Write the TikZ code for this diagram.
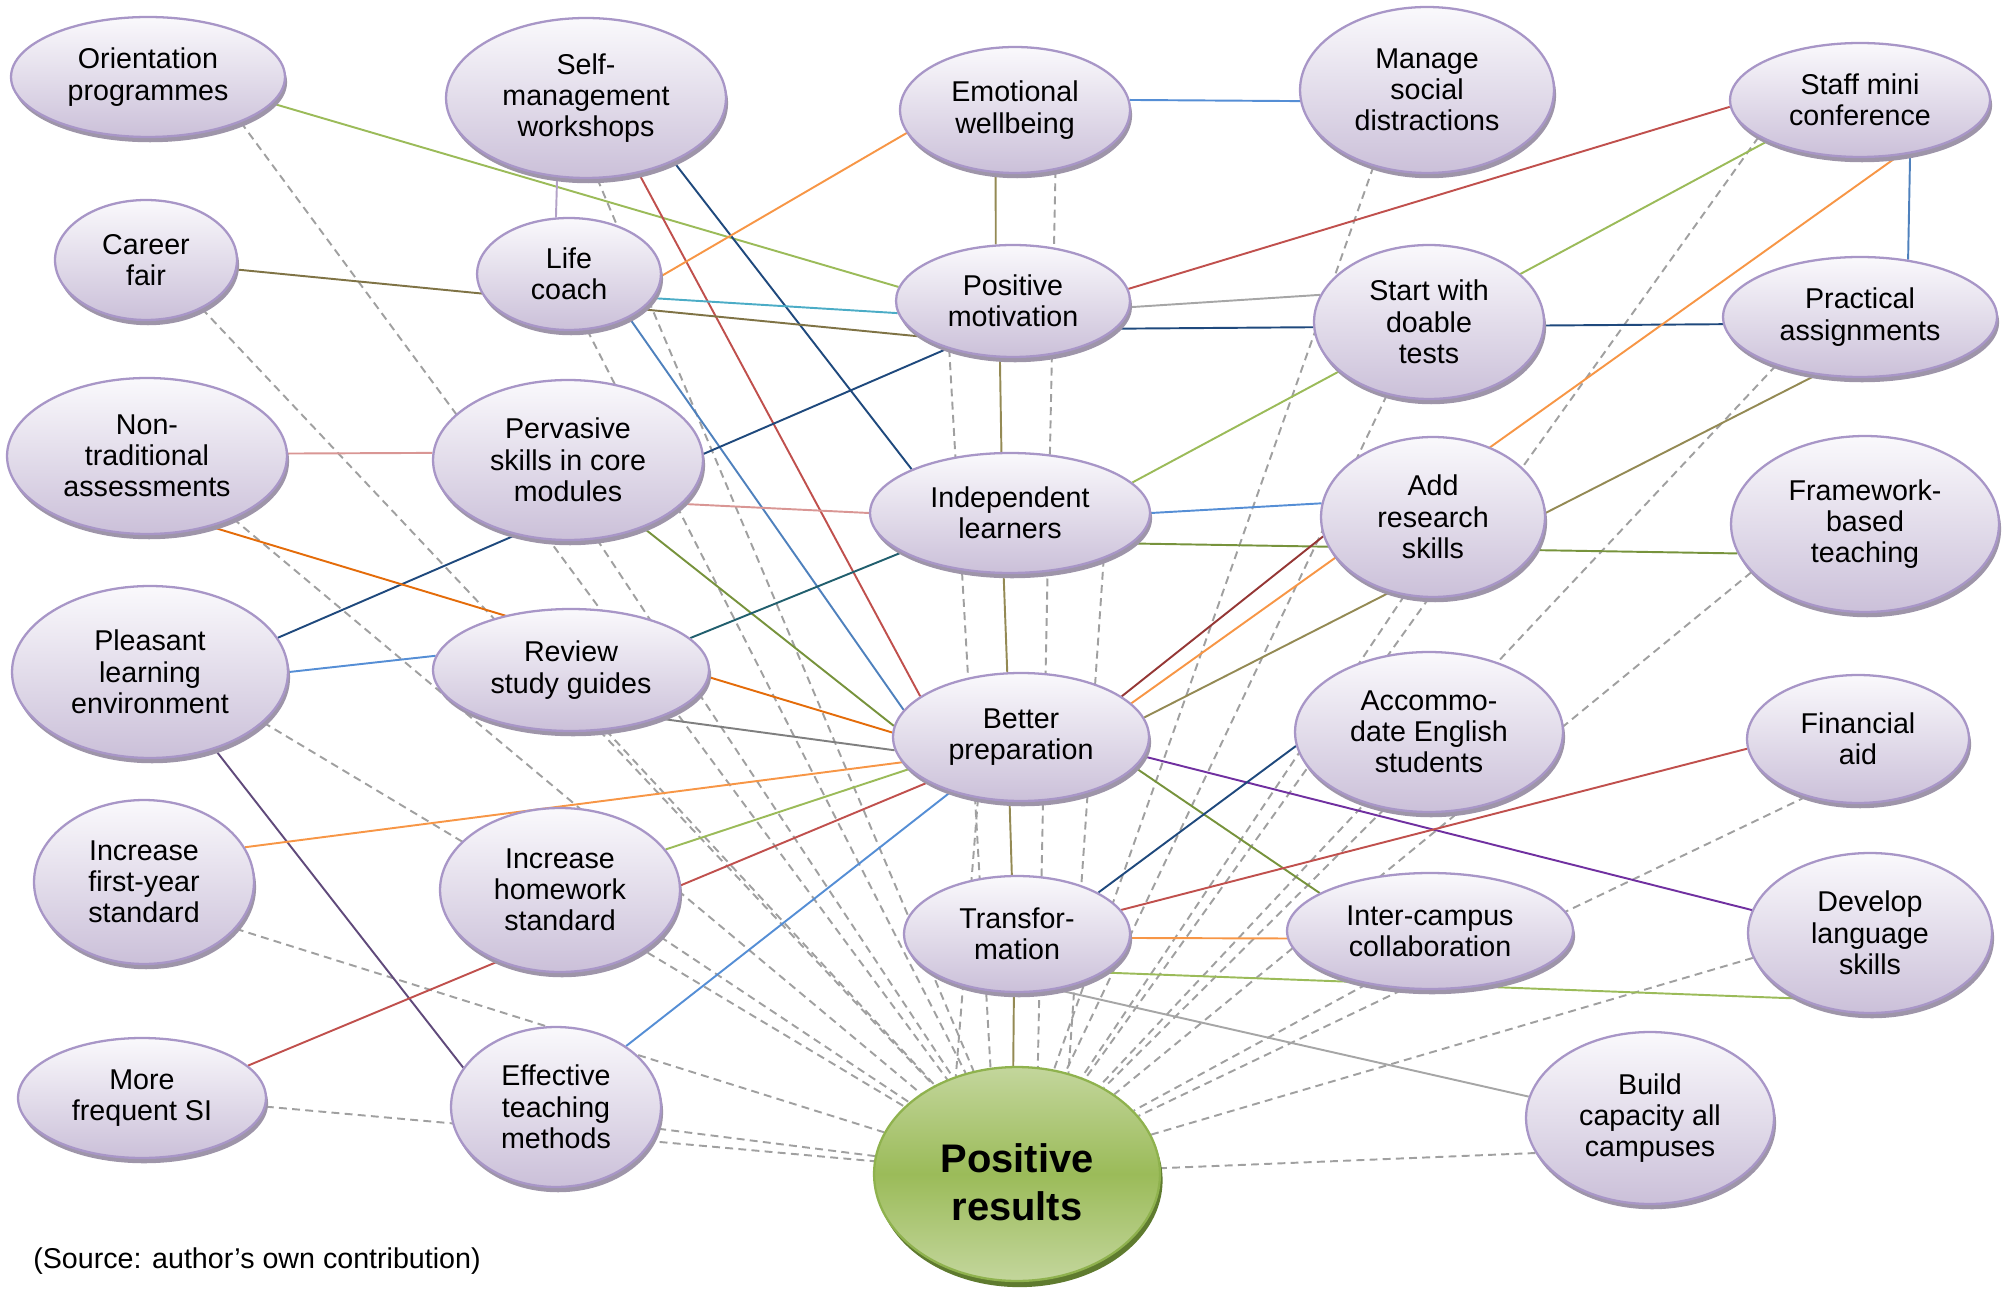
\documentclass[tikz,border=0pt]{standalone}
\usepackage{fontspec}
\setmainfont{Liberation Sans}
\usetikzlibrary{shapes.geometric,shadows,backgrounds}
\definecolor{btop}{HTML}{FAF9FC}
\definecolor{bbot}{HTML}{CBC0D9}
\definecolor{bord}{HTML}{A896C7}
\definecolor{bshad}{HTML}{9E95A9}
\definecolor{prtop}{HTML}{C3D69C}
\definecolor{prmid}{HTML}{9BBB59}
\definecolor{prbord}{HTML}{8FB24E}
\definecolor{prshad}{HTML}{5F7B2F}
\definecolor{cgreen}{HTML}{9BBB59}
\definecolor{cnavy}{HTML}{1F497D}
\definecolor{cred}{HTML}{C0504D}
\definecolor{cblue}{HTML}{4F81BD}
\definecolor{clblue}{HTML}{558ED5}
\definecolor{corange}{HTML}{F79646}
\definecolor{cdorange}{HTML}{E46C0A}
\definecolor{colive}{HTML}{948A54}
\definecolor{cbrown}{HTML}{7F7345}
\definecolor{cogreen}{HTML}{77933C}
\definecolor{ccyan}{HTML}{4BACC6}
\definecolor{cgray}{HTML}{A6A6A6}
\definecolor{cdgray}{HTML}{7F7F7F}
\definecolor{cpink}{HTML}{D99694}
\definecolor{cteal}{HTML}{215F6E}
\definecolor{cdred}{HTML}{953735}
\definecolor{cpurple}{HTML}{7030A0}
\definecolor{cmpurple}{HTML}{604A7B}
\definecolor{clav}{HTML}{B3A2C7}
\definecolor{dashgray}{HTML}{A0A0A0}
\begin{document}
\begin{tikzpicture}[x=0.02cm,y=-0.02cm,
  bub/.style={ellipse, draw=bord, line width=1.3pt, top color=btop, bottom color=bbot,
    inner sep=0pt, align=center, font=\fontsize{16.3pt}{17.8pt}\selectfont,
    drop shadow={shadow xshift=1.2pt, shadow yshift=-3pt, fill=bshad, opacity=1}},
  sz/.style 2 args={minimum width=#1cm, minimum height=#2cm},
  prs/.style={ellipse, draw=prbord, line width=1.3pt, top color=prtop, bottom color=prtop, middle color=prmid,
    inner sep=0pt, align=center, font=\bfseries\fontsize{22.7pt}{27.5pt}\selectfont,
    drop shadow={shadow xshift=1.5pt, shadow yshift=-3.5pt, fill=prshad, opacity=1}},
  ln/.style={draw=#1, line width=1.1pt},
  dsh/.style={draw=dashgray, line width=1.1pt, dash pattern=on 4.5pt off 3pt}
]
\useasboundingbox (0,0) rectangle (2011,1290);

\node[bub, sz={5.48}{2.40}] (orient) at (148,77) {Orientation\\programmes};
\node[bub, sz={5.60}{3.20}] (selfm) at (586,98) {Self-\\management\\workshops};
\node[bub, sz={3.64}{2.40}] (career) at (146,260) {Career\\fair};
\node[bub, sz={3.68}{2.24}] (life) at (569,274) {Life\\coach};
\node[bub, sz={4.60}{2.52}] (emo) at (1015,110) {Emotional\\wellbeing};
\node[bub, sz={5.08}{3.32}] (manage) at (1427,90) {Manage\\social\\distractions};
\node[bub, sz={4.68}{2.24}] (posmot) at (1013,301) {Positive\\motivation};
\node[bub, sz={5.20}{2.28}] (staff) at (1860,100) {Staff mini\\conference};
\node[bub, sz={4.60}{3.08}] (start) at (1429,322) {Start with\\doable\\tests};
\node[bub, sz={5.48}{2.40}] (pract) at (1860,317) {Practical\\assignments};
\node[bub, sz={5.60}{3.12}] (nontrad) at (147,456) {Non-\\traditional\\assessments};
\node[bub, sz={5.40}{3.20}] (perv) at (568,460) {Pervasive\\skills in core\\modules};
\node[bub, sz={5.60}{2.40}] (indep) at (1010,513) {Independent\\learners};
\node[bub, sz={4.48}{3.20}] (addres) at (1433,517) {Add\\research\\skills};
\node[bub, sz={5.36}{3.52}] (frame) at (1865,524) {Framework-\\based\\teaching};
\node[bub, sz={5.52}{3.44}] (pleas) at (150,672) {Pleasant\\learning\\environment};
\node[bub, sz={5.52}{2.44}] (review) at (571,670) {Review\\study guides};
\node[bub, sz={5.12}{2.56}] (better) at (1021,737) {Better\\preparation};
\node[bub, sz={5.36}{3.20}] (accom) at (1429,732) {Accommo-\\date English\\students};
\node[bub, sz={4.44}{2.56}] (fin) at (1858,739) {Financial\\aid};
\node[bub, sz={4.40}{3.28}] (firsty) at (144,882) {Increase\\first-year\\standard};
\node[bub, sz={4.80}{3.28}] (homew) at (560,890) {Increase\\homework\\standard};
\node[bub, sz={4.52}{2.32}] (trans) at (1017,934) {Transfor-\\mation};
\node[bub, sz={5.72}{2.32}] (inter) at (1430,931) {Inter-campus\\collaboration};
\node[bub, sz={4.88}{3.20}] (develop) at (1870,933) {Develop\\language\\skills};
\node[bub, sz={4.96}{2.40}] (moresi) at (142,1098) {More\\frequent SI};
\node[bub, sz={4.20}{3.20}] (effect) at (556,1107) {Effective\\teaching\\methods};
\node[bub, sz={4.96}{3.44}] (build) at (1650,1118) {Build\\capacity all\\campuses};
\node[prs, sz={5.72}{4.28}] (pr) at (1017,1174) {\rule{0pt}{0.9cm}Positive\\results};

\node[anchor=base west, inner sep=0pt, font=\fontsize{16.3pt}{17.8pt}\selectfont] (src) at (33,1268) {(Source: author’s own contribution)};

\begin{scope}[on background layer]
% dashed links to Positive results
\draw[dsh] (orient.-26) -- (pr);
\draw[dsh] (career.-41) -- (pr);
\draw[dsh] (selfm.-82) -- (pr);
\draw[dsh] (life.-72) -- (pr);
\draw[dsh] (nontrad.-36) -- (pr);
\draw[dsh] (perv.-70) -- (pr);
\draw[dsh] (pleas.-24) -- (pr);
\draw[dsh] (review.-60) -- (pr);
\draw[dsh] (firsty.-27) -- (pr);
\draw[dsh] (homew.-25) -- (pr);
\draw[dsh] (moresi.-4) -- (pr);
\draw[dsh] (effect.-12) -- (pr);
\draw[dsh] (emo.-56) -- (pr.79);
\draw[dsh] (posmot.-143) -- (pr.104);
\draw[dsh] (indep.-26) -- (pr.63);
\draw[dsh] (better.-125) -- (pr.122);
\draw[dsh] (manage.-125) -- (pr);
\draw[dsh] (staff.-160) -- (pr);
\draw[dsh] (start.-120) -- (pr);
\draw[dsh] (pract.-150) -- (pr);
\draw[dsh] (addres.-110) -- (pr);
\draw[dsh] (frame.-157) -- (pr);
\draw[dsh] (accom.-120) -- (pr);
\draw[dsh] (fin.-132) -- (pr);
\draw[dsh] (inter.-140) -- (pr);
\draw[dsh] (develop.-168) -- (pr);
\draw[dsh] (build.-163) -- (pr);
% solid links
\draw[ln=cgreen] (orient.-12) -- (posmot.173);
\draw[ln=clav] (selfm.-110) -- (life.103);
\draw[ln=cnavy] (selfm.-36) -- (indep.156);
\draw[ln=cred] (selfm.-55) -- (better.158);
\draw[ln=clblue] (emo.5) -- (manage.-175);
\draw[ln=colive] (emo.-107) -- (posmot.107);
\draw[ln=corange] (life.-1) -- (emo.-168);
\draw[ln=cbrown] (career.-6) -- (posmot.-159);
\draw[ln=ccyan] (life.-16) -- (posmot.-174);
\draw[ln=cblue] (life.-36) -- (better.167);
\draw[ln=cred] (posmot.6) -- (staff.-177);
\draw[ln=cgray] (posmot.-3) -- (start.166);
\draw[ln=cnavy] (posmot.-15) -- (pract.-177);
\draw[ln=colive] (posmot.-103) -- (indep.98);
\draw[ln=cnavy] (pleas.15) -- (posmot.-144);
\draw[ln=cpink] (nontrad.1) -- (perv.177);
\draw[ln=cpink] (perv.-21) -- (indep.180);
\draw[ln=cogreen] (perv.-42) -- (better.175);
\draw[ln=cdorange] (nontrad.-48) -- (better.178);
\draw[ln=clblue] (pleas.0) -- (review.174);
\draw[ln=cmpurple] (pleas.-50) -- (effect.157);
\draw[ln=cteal] (review.15) -- (indep.-160);
\draw[ln=cdgray] (review.-29) -- (better.-174);
\draw[ln=clblue] (indep.0) -- (addres.173);
\draw[ln=cogreen] (indep.-14) -- (frame.-167);
\draw[ln=colive] (indep.-96) -- (better.102);
\draw[ln=cgreen] (indep.14) -- (staff.-156);
\draw[ln=cblue] (staff.-47) -- (pract.50);
\draw[ln=corange] (staff.-55) -- (better.17);
\draw[ln=colive] (pract.-127) -- (better.9);
\draw[ln=cdred] (addres.-170) -- (better.22);
\draw[ln=colive] (better.-100) -- (trans.95);
\draw[ln=cpurple] (better.-9) -- (develop.169);
\draw[ln=cogreen] (better.-15) -- (inter.161);
\draw[ln=corange] (firsty.19) -- (better.-168);
\draw[ln=cgreen] (homew.21) -- (better.-164);
\draw[ln=cred] (moresi.17) -- (better.-154);
\draw[ln=clblue] (effect.41) -- (better.-142);
\draw[ln=cnavy] (trans.27) -- (accom.-174);
\draw[ln=cred] (trans.13) -- (fin.-175);
\draw[ln=corange] (trans.-2) -- (inter.-177);
\draw[ln=cgreen] (trans.-24) -- (develop.-138);
\draw[ln=cgray] (trans.-55) -- (build.170);
\draw[ln=colive] (trans.-93) -- (pr.92);
\end{scope}
\end{tikzpicture}
\end{document}
